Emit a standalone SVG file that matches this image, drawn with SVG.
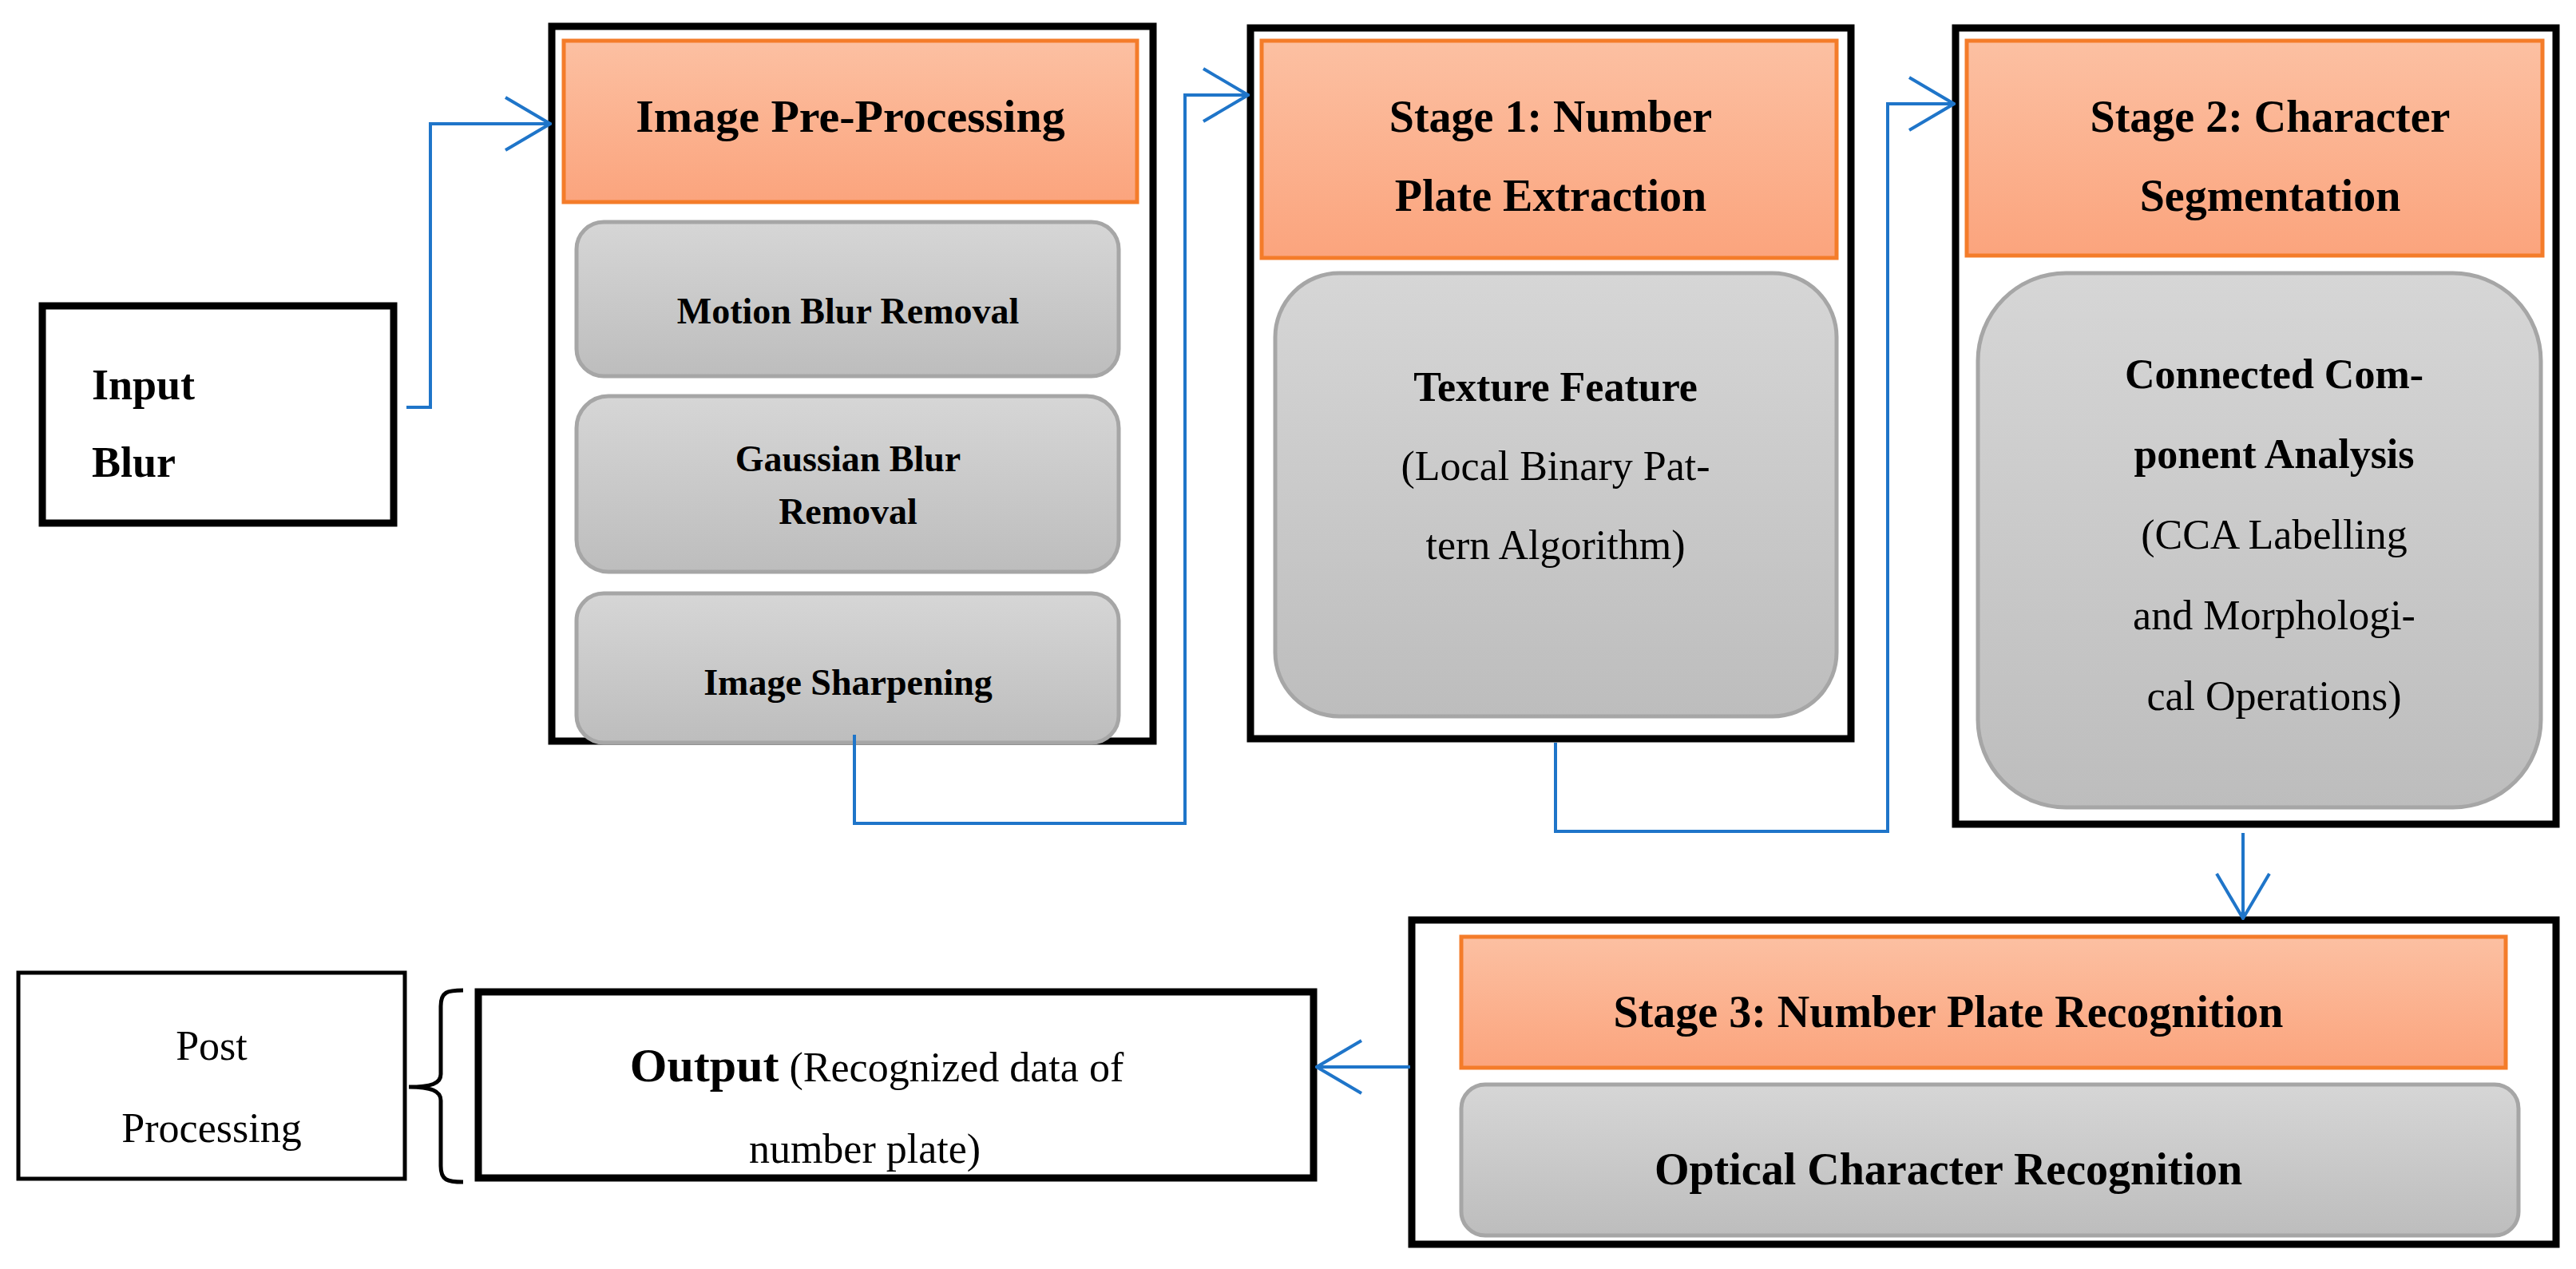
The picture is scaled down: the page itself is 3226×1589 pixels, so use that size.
<svg xmlns="http://www.w3.org/2000/svg" width="3226" height="1589" viewBox="0 0 3226 1589">
<defs>
<linearGradient id="og" x1="0" y1="0" x2="0" y2="1"><stop offset="0" stop-color="#fcc0a2"/><stop offset="1" stop-color="#fba47d"/></linearGradient>
<linearGradient id="gg" x1="0" y1="0" x2="0" y2="1"><stop offset="0" stop-color="#d6d6d6"/><stop offset="1" stop-color="#bdbdbd"/></linearGradient>
<marker id="ah" viewBox="0 0 60 70" refX="58" refY="35" markerWidth="60" markerHeight="70" markerUnits="userSpaceOnUse" orient="auto"><path d="M2,2 L58,35 L2,68" fill="none" stroke="#1f75c9" stroke-width="4"/></marker>
</defs>
<style>
text{font-family:"Liberation Serif","DejaVu Serif",serif;fill:#000;text-anchor:middle}
.b{font-weight:bold}
.box{fill:#fff;stroke:#000;stroke-width:9}
.hdr{fill:url(#og);stroke:#f47c2a;stroke-width:5}
.gr{fill:url(#gg);stroke:#a6a6a6;stroke-width:5}
.c{fill:none;stroke:#1f75c9;stroke-width:4;marker-end:url(#ah)}
</style>
<rect width="3226" height="1589" fill="#fff"/>
<g id="input">
<rect class="box" x="53" y="383" width="440" height="272"/>
<text class="b" x="115" y="500" font-size="54" style="text-anchor:start">Input</text>
<text class="b" x="115" y="597" font-size="54" style="text-anchor:start">Blur</text>
</g>
<g id="preproc">
<rect class="box" x="691" y="33" width="753" height="895"/>
<rect class="hdr" x="706" y="51" width="718" height="202"/>
<text class="b" x="1065" y="165" font-size="58">Image Pre-Processing</text>
<rect class="gr" x="722" y="278" width="679" height="193" rx="34"/>
<text class="b" x="1062" y="405" font-size="46">Motion Blur Removal</text>
<rect class="gr" x="722" y="496" width="679" height="220" rx="40"/>
<text class="b" x="1062" y="590" font-size="46">Gaussian Blur</text>
<text class="b" x="1062" y="656" font-size="46">Removal</text>
<rect class="gr" x="722" y="743" width="679" height="187" rx="34"/>
<text class="b" x="1062" y="870" font-size="46">Image Sharpening</text>
</g>
<g id="stage1">
<rect class="box" x="1566" y="35" width="752" height="890"/>
<rect class="hdr" x="1580" y="51" width="720" height="272"/>
<text class="b" x="1942" y="165" font-size="56">Stage 1: Number</text>
<text class="b" x="1942" y="264" font-size="56">Plate Extraction</text>
<rect class="gr" x="1597" y="342" width="703" height="555" rx="80"/>
<text class="b" x="1948" y="502" font-size="52">Texture Feature</text>
<text x="1948" y="601" font-size="52">(Local Binary Pat-</text>
<text x="1948" y="700" font-size="52">tern Algorithm)</text>
</g>
<g id="stage2">
<rect class="box" x="2449" y="35" width="752" height="997"/>
<rect class="hdr" x="2463" y="51" width="721" height="269"/>
<text class="b" x="2843" y="165" font-size="56">Stage 2: Character</text>
<text class="b" x="2843" y="264" font-size="56">Segmentation</text>
<rect class="gr" x="2477" y="342" width="705" height="669" rx="110"/>
<text class="b" x="2848" y="486" font-size="52">Connected Com-</text>
<text class="b" x="2848" y="586" font-size="52">ponent Analysis</text>
<text x="2848" y="687" font-size="52">(CCA Labelling</text>
<text x="2848" y="788" font-size="52">and Morphologi-</text>
<text x="2848" y="889" font-size="52">cal Operations)</text>
</g>
<g id="stage3">
<rect class="box" x="1768" y="1152" width="1433" height="406"/>
<rect class="hdr" x="1830" y="1173" width="1308" height="164"/>
<text class="b" x="2440" y="1286" font-size="56">Stage 3: Number Plate Recognition</text>
<rect class="gr" x="1830" y="1358" width="1324" height="189" rx="30"/>
<text class="b" x="2440" y="1483" font-size="56">Optical Character Recognition</text>
</g>
<g id="output">
<rect class="box" x="599" y="1242" width="1046" height="233"/>
<text x="1098" y="1354" font-size="52"><tspan class="b" font-size="60">Output</tspan> (Recognized data of</text>
<text x="1083" y="1456" font-size="52">number plate)</text>
</g>
<g id="post">
<rect x="23" y="1218" width="484" height="258" fill="#fff" stroke="#000" stroke-width="5"/>
<text x="265" y="1327" font-size="52">Post</text>
<text x="265" y="1430" font-size="52">Processing</text>
<path d="M580,1240 C560,1240 552,1242 552,1260 L552,1345 C552,1357 540,1361 512,1361 C540,1361 552,1366 552,1378 L552,1460 C552,1478 560,1480 580,1480" fill="none" stroke="#000" stroke-width="5"/>
</g>
<g id="connectors">
<path class="c" d="M509,510 H539 V155 H689"/>
<path class="c" d="M1070,920 V1031 H1484 V119 H1563"/>
<path class="c" d="M1948,930 V1041 H2364 V130 H2447"/>
<path class="c" d="M2809,1043 V1150"/>
<path class="c" d="M1766,1336 H1649"/>
</g>
</svg>
